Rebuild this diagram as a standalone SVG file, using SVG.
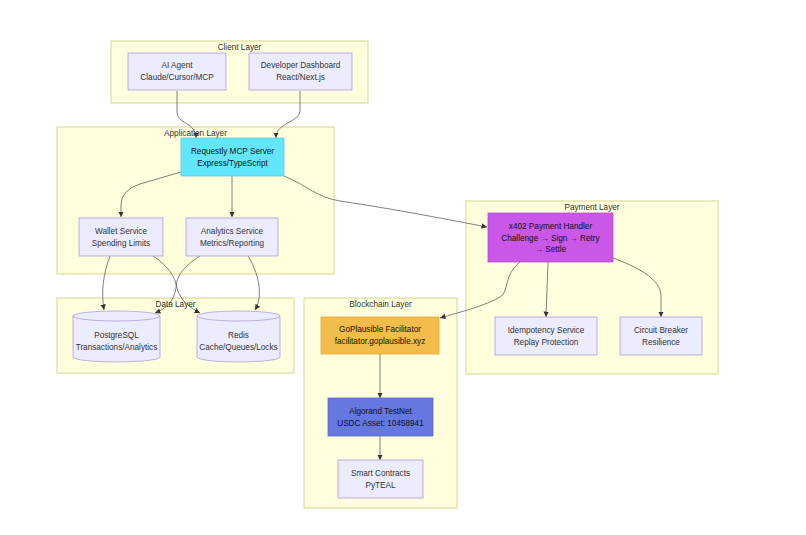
<svg xmlns="http://www.w3.org/2000/svg" width="806" height="535" viewBox="0 0 806 535">
<defs>
<style>
.cluster{fill:#ffffde;stroke:#d6d68c;stroke-width:1}
.node{fill:#ececff;stroke:#b09ae0;stroke-width:0.8}
.t{font-family:"Liberation Sans",Arial,sans-serif;font-size:8.2px;fill:#333;text-anchor:middle;dominant-baseline:central}
.tc{font-family:"Liberation Sans",Arial,sans-serif;font-size:8.2px;fill:#333;text-anchor:middle;dominant-baseline:central}
.tb{fill:#111}
.edge{fill:none;stroke:#555;stroke-width:0.75;marker-end:url(#arr)}
</style>
<marker id="arr" viewBox="0 0 10 10" refX="10" refY="5" markerWidth="5.5" markerHeight="5.5" markerUnits="userSpaceOnUse" orient="auto">
<path d="M0,0 L10,5 L0,10 z" fill="#333"/>
</marker>
</defs>
<rect width="806" height="535" fill="#ffffff"/>

<g id="clusters">
<g id="client-layer"><rect class="cluster" x="111" y="41" width="257" height="62"/><text class="tc" x="239.5" y="47.5">Client Layer</text></g>
<g id="application-layer"><rect class="cluster" x="57" y="127" width="277" height="147"/><text class="tc" x="195.5" y="133">Application Layer</text></g>
<g id="data-layer"><rect class="cluster" x="57" y="298" width="237" height="75"/><text class="tc" x="175.5" y="304">Data Layer</text></g>
<g id="payment-layer"><rect class="cluster" x="466" y="201" width="252" height="173"/><text class="tc" x="592" y="207">Payment Layer</text></g>
<g id="blockchain-layer"><rect class="cluster" x="304" y="298" width="153" height="210"/><text class="tc" x="380.5" y="304">Blockchain Layer</text></g>
</g>

<g id="connectors">
<path class="edge" d="M177,91 L177,112 C177,124 196,122 196,138"/>
<path class="edge" d="M300,91 L300,110 C300,123 276,122 276,138"/>
<path class="edge" d="M181,172 L140,184 Q121,190 121,205 L121,217"/>
<path class="edge" d="M232,176 L232,217"/>
<path class="edge" d="M284,176 C310,187 316,197 340,201 C400,210 450,220 487,227"/>
<path class="edge" d="M110,256 C103,275 101,292 104,310"/>
<path class="edge" d="M153,256 C168,266 175,276 177,288 C180,300 190,308 200,313"/>
<path class="edge" d="M200,256 C184,266 176,276 176,288 C174,302 165,309 155,313"/>
<path class="edge" d="M248,256 C258,272 264,295 255,310"/>
<path class="edge" d="M520,262 C503,276 510,290 500,297 C485,306 460,312 440,318"/>
<path class="edge" d="M548,262 L546,317"/>
<path class="edge" d="M613,258 C640,268 661,280 661,296 L661,317"/>
<path class="edge" d="M380,354 L380,398"/>
<path class="edge" d="M380,436 L380,460"/>
</g>

<g id="ai-agent"><rect class="node" x="128" y="53" width="98" height="37"/><text class="t" x="177" y="65.5">AI Agent</text><text class="t" x="177" y="77.5">Claude/Cursor/MCP</text></g>
<g id="developer-dashboard"><rect class="node" x="249" y="53" width="103" height="37"/><text class="t" x="300.5" y="65.5">Developer Dashboard</text><text class="t" x="300.5" y="77.5">React/Next.js</text></g>

<g id="requestly-mcp-server"><rect x="181" y="138" width="103" height="38" fill="#61e6fb" stroke="#5fc8dc" stroke-width="0.8"/><text class="t tb" x="232.5" y="151">Requestly MCP Server</text><text class="t tb" x="232.5" y="163">Express/TypeScript</text></g>
<g id="wallet-service"><rect class="node" x="79" y="218" width="84" height="38"/><text class="t" x="121" y="231">Wallet Service</text><text class="t" x="121" y="243">Spending Limits</text></g>
<g id="analytics-service"><rect class="node" x="186" y="218" width="92" height="38"/><text class="t" x="232" y="231">Analytics Service</text><text class="t" x="232" y="243">Metrics/Reporting</text></g>

<g id="postgresql">
<path class="node" d="M73,316 A43.5,5 0 0 0 160,316 A43.5,5 0 0 0 73,316 L73,357 A43.5,5 0 0 0 160,357 L160,316"/>
<text class="t" x="116.5" y="335">PostgreSQL</text><text class="t" x="116.5" y="347">Transactions/Analytics</text></g>
<g id="redis">
<path class="node" d="M197,316 A41.5,5 0 0 0 280,316 A41.5,5 0 0 0 197,316 L197,357 A41.5,5 0 0 0 280,357 L280,316"/>
<text class="t" x="238.5" y="335">Redis</text><text class="t" x="238.5" y="347">Cache/Queues/Locks</text></g>

<g id="x402-payment-handler"><rect x="488" y="213" width="125" height="49" fill="#c957e8" stroke="#b94fd8" stroke-width="0.8"/><text class="t tb" x="550.5" y="226">x402 Payment Handler</text><text class="t tb" x="550.5" y="238">Challenge → Sign → Retry</text><text class="t tb" x="550.5" y="249.5">→ Settle</text></g>
<g id="idempotency-service"><rect class="node" x="495" y="317" width="102" height="38"/><text class="t" x="546" y="330">Idempotency Service</text><text class="t" x="546" y="342">Replay Protection</text></g>
<g id="circuit-breaker"><rect class="node" x="620" y="317" width="82" height="38"/><text class="t" x="661" y="330">Circuit Breaker</text><text class="t" x="661" y="342">Resilience</text></g>

<g id="goplausible-facilitator"><rect x="321" y="317" width="118" height="37" fill="#f3bd4b" stroke="#e0a83a" stroke-width="0.8"/><text class="t tb" x="380" y="329.5">GoPlausible Facilitator</text><text class="t tb" x="380" y="341.5">facilitator.goplausible.xyz</text></g>
<g id="algorand-testnet"><rect x="328" y="398" width="105" height="38" fill="#6577e0" stroke="#5a6cd0" stroke-width="0.8"/><text class="t tb" x="380.5" y="411">Algorand TestNet</text><text class="t tb" x="380.5" y="423">USDC Asset: 10458941</text></g>
<g id="smart-contracts"><rect class="node" x="338" y="460" width="85" height="38"/><text class="t" x="380.5" y="473">Smart Contracts</text><text class="t" x="380.5" y="485">PyTEAL</text></g>
</svg>
